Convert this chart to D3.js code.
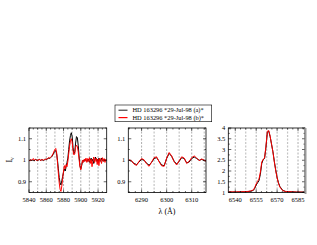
<!DOCTYPE html>
<html>
<head>
<meta charset="utf-8">
<script src="https://cdn.jsdelivr.net/npm/d3@7"></script>
<style>
body { margin: 0; background: #fff; }
text { font-family: "Liberation Serif", "DejaVu Serif", serif; }
</style>
</head>
<body>
<div id="chart"></div>
<script>
var svgWidth = 317;
var svgHeight = 245;

// series names
var seriesNames = ["HD 163296 *29-Jul-98 (a)*", "HD 163296 *29-Jul-98 (b)*"];
var seriesColors = ["#000000", "#ff0000"];

// panel 1: He I 5876 / Na D region
var lam1 = d3.range(5840, 5931, 1);
var fluxA1 = [1.000, 0.998, 1.002, 0.997, 1.001, 1.000, 0.996, 1.003, 1.005, 1.000,
    0.998, 1.002, 1.004, 0.999, 1.001, 1.003, 1.000, 0.998, 1.002, 1.005,
    1.003, 1.006, 1.008, 1.010, 1.008, 1.012, 1.015, 1.020, 1.028, 1.035,
    1.042, 1.045, 1.030, 1.000, 0.960, 0.920, 0.895, 0.885, 0.905, 0.925,
    0.945, 0.960, 0.950, 0.970, 0.990, 1.010, 1.050, 1.090, 1.115, 1.128,
    1.110, 1.060, 1.030, 1.040, 1.080, 1.110, 1.105, 1.070, 1.020, 0.975,
    0.960, 0.975, 0.995, 1.000, 0.995, 1.005, 0.998, 1.002, 0.995, 1.005,
    0.990, 1.000, 1.010, 0.995, 1.005, 0.985, 1.000, 1.015, 0.995, 1.005,
    0.990, 1.010, 1.000, 0.995, 1.010, 1.000, 0.995, 1.005, 1.000, 0.998, 1.002];
var fluxB1 = [1.002, 0.996, 1.004, 0.999, 1.003, 1.008, 1.000, 1.004, 1.002, 0.998,
    1.003, 1.000, 1.006, 1.001, 0.998, 1.004, 1.002, 1.000, 1.005, 1.003,
    1.007, 1.004, 1.010, 1.012, 1.010, 1.015, 1.018, 1.024, 1.032, 1.042,
    1.050, 1.055, 1.035, 0.990, 0.940, 0.895, 0.865, 0.855, 0.880, 0.915,
    0.950, 0.975, 0.960, 0.980, 0.970, 0.995, 1.030, 1.065, 1.090, 1.100,
    1.085, 1.045, 1.025, 1.030, 1.060, 1.070, 1.065, 1.040, 1.005, 0.970,
    0.955, 0.980, 1.000, 0.990, 1.005, 0.995, 1.010, 0.990, 1.008, 0.995,
    1.012, 0.985, 1.005, 0.970, 0.995, 1.015, 0.990, 1.005, 1.010, 0.980,
    1.005, 0.975, 1.010, 1.000, 0.985, 1.012, 0.995, 1.008, 0.990, 1.005, 0.998];

// panel 2: 6300 region
var lam2 = d3.range(6285, 6317, 1);
var fluxA2 = [1.000, 0.995, 0.985, 0.980, 0.992, 1.004, 1.000, 0.986, 0.977, 0.990,
    1.008, 1.012, 0.995, 0.978, 0.975, 1.008, 1.032, 1.018, 0.995, 0.982,
    0.995, 1.012, 1.008, 0.988, 0.992, 1.008, 1.015, 1.008, 1.000, 1.004,
    0.998, 0.996];
var fluxB2 = [1.002, 0.998, 0.982, 0.976, 0.995, 1.008, 1.002, 0.983, 0.972, 0.992,
    1.012, 1.016, 0.993, 0.974, 0.972, 1.010, 1.036, 1.020, 0.993, 0.978,
    0.998, 1.016, 1.010, 0.985, 0.995, 1.012, 1.020, 1.010, 0.998, 1.006,
    1.000, 0.994];

// panel 3: H alpha
var lam3 = [6535, 6538, 6541, 6544, 6547, 6549, 6551, 6553, 6554, 6555, 6556, 6557,
    6558, 6559, 6560, 6561, 6562, 6563, 6564, 6565, 6566, 6567, 6568, 6569,
    6570, 6571, 6572, 6574, 6576, 6578, 6581, 6584, 6587, 6590];
var fluxA3 = [1.02, 1.02, 1.02, 1.03, 1.03, 1.04, 1.06, 1.10, 1.20, 1.35, 1.45, 1.55,
    1.85, 2.35, 2.52, 2.58, 3.10, 3.80, 3.85, 3.60, 3.25, 2.90, 2.45, 2.05,
    1.70, 1.45, 1.28, 1.10, 1.05, 1.04, 1.03, 1.02, 1.02, 1.01];
var fluxB3 = [1.03, 1.03, 1.03, 1.03, 1.04, 1.05, 1.07, 1.12, 1.24, 1.40, 1.52, 1.62,
    1.95, 2.42, 2.55, 2.60, 3.15, 3.85, 3.88, 3.62, 3.25, 2.88, 2.42, 2.02,
    1.68, 1.42, 1.25, 1.09, 1.05, 1.04, 1.03, 1.02, 1.02, 1.01];

var majorTicks1 = [5840, 5860, 5880, 5900, 5920];
var majorTicks2 = [6290, 6300, 6310];
var majorTicks3 = [6540, 6555, 6570, 6585];
var yTicksA = [0.9, 1, 1.1];
var yTicksB = [1, 1.5, 2, 2.5, 3, 3.5, 4];

var panels = [
    { lam: lam1, flux: [fluxA1, fluxB1], xDomain: [5840, 5930], yDomain: [0.85, 1.15],
      xTicks: majorTicks1, xStep: 10, xMinor: 5, yTicks: yTicksA, yMinor: 0.05,
      left: 29, right: 106.7, grey: false },
    { lam: lam2, flux: [fluxA2, fluxB2], xDomain: [6284.7, 6315.7], yDomain: [0.85, 1.15],
      xTicks: majorTicks2, xStep: 5, xMinor: 2.5, yTicks: yTicksA, yMinor: 0.05,
      left: 128.3, right: 206, grey: false },
    { lam: lam3, flux: [fluxA3, fluxB3], xDomain: [6535, 6590], yDomain: [1, 4],
      xTicks: majorTicks3, xStep: 7.5, xMinor: 3.75, yTicks: yTicksB, yMinor: 0.25,
      left: 228.3, right: 305, grey: true }
];

var plotTop = 128, plotBottom = 192.5;

var svg = d3.select("#chart")
    .append("svg")
    .attr("width", svgWidth)
    .attr("height", svgHeight)
    .style("display", "block");

svg.append("rect").attr("width", svgWidth).attr("height", svgHeight).attr("fill", "#fff");

panels.forEach(function(p, i) {
    var x = d3.scaleLinear().domain(p.xDomain).range([p.left, p.right]);
    var y = d3.scaleLinear().domain(p.yDomain).range([plotBottom, plotTop]);
    var g = svg.append("g");

    var clipId = "clip" + i;
    svg.append("clipPath").attr("id", clipId)
        .append("rect")
        .attr("x", p.left).attr("y", plotTop)
        .attr("width", p.right - p.left).attr("height", plotBottom - plotTop);

    var isMajX = v => p.xTicks.some(t => Math.abs(t - v) < 0.01);
    var isMajY = v => p.yTicks.some(t => Math.abs(t - v) < 0.001);

    // vertical dashed grid: major ticks dark, in-between lighter
    var start = Math.ceil(p.xDomain[0] / p.xStep) * p.xStep;
    var gridVals = d3.range(start, p.xDomain[1] + 0.001, p.xStep)
        .filter(v => x(v) > p.left + 1 && x(v) < p.right - 1);
    g.selectAll(".grid")
        .data(gridVals)
        .enter()
        .append("line")
        .attr("x1", d => x(d)).attr("x2", d => x(d))
        .attr("y1", plotTop).attr("y2", plotBottom)
        .attr("stroke", d => isMajX(d) ? "#777" : "#c4c4c4")
        .attr("stroke-width", d => isMajX(d) ? 0.6 : 1.2)
        .attr("stroke-dasharray", "2,1.5");

    // spectra
    var line = d3.line()
        .x((d, k) => x(p.lam[k]))
        .y(d => y(d));
    p.flux.forEach(function(f, s) {
        g.append("path")
            .datum(f)
            .attr("clip-path", "url(#" + clipId + ")")
            .attr("fill", "none")
            .attr("stroke", seriesColors[s])
            .attr("stroke-width", 1)
            .attr("stroke-linejoin", "round")
            .attr("d", line);
    });

    // inward ticks on all four sides
    var xMinorVals = d3.range(Math.ceil(p.xDomain[0] / p.xMinor - 1e-6) * p.xMinor, p.xDomain[1], p.xMinor);
    var yMinorVals = d3.range(Math.ceil(p.yDomain[0] / p.yMinor - 1e-6) * p.yMinor, p.yDomain[1] + 1e-6, p.yMinor);
    xMinorVals.forEach(function(v) {
        var len = isMajX(v) ? 3 : 1.5;
        g.append("line").attr("x1", x(v)).attr("x2", x(v)).attr("y1", plotBottom).attr("y2", plotBottom - len)
            .attr("stroke", "#000").attr("stroke-width", 0.6);
        g.append("line").attr("x1", x(v)).attr("x2", x(v)).attr("y1", plotTop).attr("y2", plotTop + len)
            .attr("stroke", "#000").attr("stroke-width", 0.6);
    });
    yMinorVals.forEach(function(v) {
        var len = isMajY(v) ? 3 : 1.5;
        g.append("line").attr("x1", p.left).attr("x2", p.left + len).attr("y1", y(v)).attr("y2", y(v))
            .attr("stroke", "#000").attr("stroke-width", 0.6);
        g.append("line").attr("x1", p.right).attr("x2", p.right - len).attr("y1", y(v)).attr("y2", y(v))
            .attr("stroke", "#000").attr("stroke-width", 0.6);
    });

    // frame
    g.append("rect")
        .attr("x", p.left).attr("y", plotTop)
        .attr("width", p.right - p.left).attr("height", plotBottom - plotTop)
        .attr("fill", "none").attr("stroke", "#000").attr("stroke-width", 0.8);
    if (p.grey) {
        g.append("rect")
            .attr("x", p.right - 0.5).attr("y", plotTop)
            .attr("width", 2).attr("height", plotBottom - plotTop + 1.5)
            .attr("fill", "#999");
    }

    // tick labels
    g.selectAll(".xlab")
        .data(p.xTicks)
        .enter()
        .append("text")
        .attr("x", d => x(d))
        .attr("y", 202)
        .attr("text-anchor", "middle")
        .attr("font-size", 6.5)
        .text(d => d);
    g.selectAll(".ylab")
        .data(p.yTicks)
        .enter()
        .append("text")
        .attr("x", p.left - 3)
        .attr("y", d => y(d) + 2.2)
        .attr("text-anchor", "end")
        .attr("font-size", 6.5)
        .text(d => d3.format("~g")(d));
});

// axis titles
svg.append("text")
    .attr("x", 167)
    .attr("y", 214)
    .attr("text-anchor", "middle")
    .attr("font-size", 8)
    .text("λ (Å)");

var ylab = svg.append("text")
    .attr("transform", "translate(12, 160) rotate(-90)")
    .attr("text-anchor", "middle")
    .attr("font-size", 8);
ylab.append("tspan").text("I");
ylab.append("tspan").attr("font-size", 5.5).attr("dy", 1.5).text("ν");

// legend
var legend = svg.append("g");
legend.append("rect")
    .attr("x", 115).attr("y", 105)
    .attr("width", 96.7).attr("height", 16.7)
    .attr("fill", "#fff").attr("stroke", "#000").attr("stroke-width", 0.6);
seriesNames.forEach(function(name, s) {
    var yy = 110.2 + s * 7.4;
    legend.append("line")
        .attr("x1", 118.5).attr("x2", 127.5)
        .attr("y1", yy).attr("y2", yy)
        .attr("stroke", seriesColors[s]).attr("stroke-width", s ? 1.2 : 0.9);
    legend.append("text")
        .attr("x", 132.5)
        .attr("y", yy + 2.2)
        .attr("font-size", 6.4)
        .text(name);
});
</script>
</body>
</html>
